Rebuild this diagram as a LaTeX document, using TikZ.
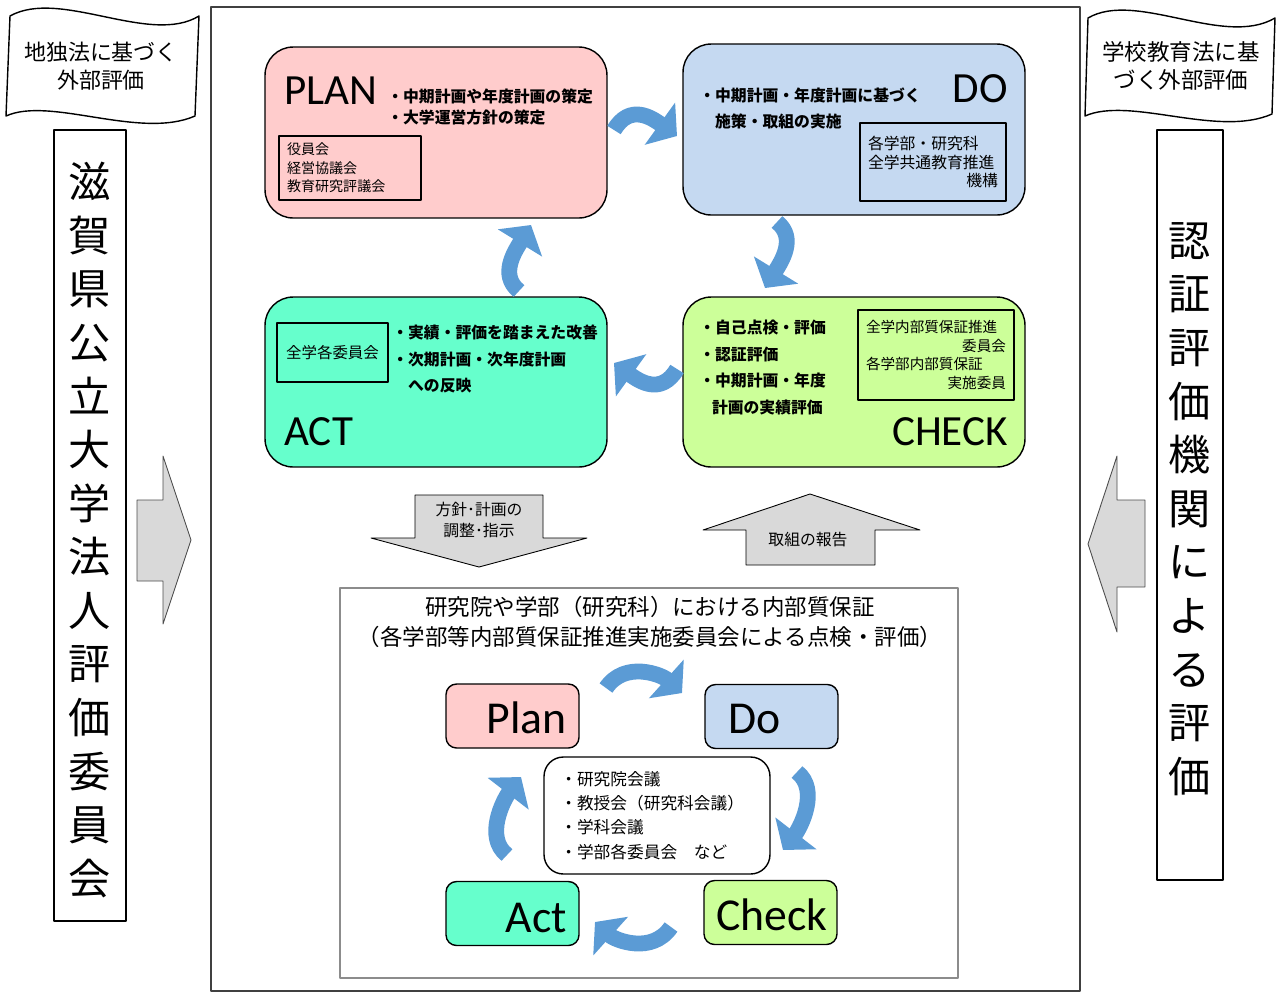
\documentclass[tikz,border=0pt]{standalone}
\usepackage{fontspec}
\setmainfont{Noto Sans CJK JP}
\newfontfamily\pdcafont{Carlito}
\usetikzlibrary{arrows.meta}
\definecolor{planpink}{HTML}{FFCCCC}
\definecolor{doblue}{HTML}{C5D9F1}
\definecolor{actgreen}{HTML}{66FFCC}
\definecolor{checklime}{HTML}{CCFF99}
\definecolor{cyclebl}{HTML}{5B9BD5}
\definecolor{blockgray}{HTML}{D9D9D9}
\definecolor{framegray}{HTML}{404040}

\begin{document}
\begin{tikzpicture}[line join=round,x=0.02cm,y=-0.02cm,
  bigbox/.style={draw=black,line width=0.8pt,rounded corners=16pt,minimum width=6.84cm,minimum height=3.42cm},
  innerbox/.style={draw=black,line width=0.6pt,inner xsep=0.16cm,inner ysep=0pt,align=left},
  smallbox/.style={draw=black,line width=0.8pt,rounded corners=6pt,minimum width=2.66cm,minimum height=1.28cm},
  bigtitle/.style={font=\pdcafont\fontsize{24.5}{24}\selectfont,inner sep=0pt},
  smalltitle/.style={font=\pdcafont\fontsize{26}{26}\selectfont,inner sep=0pt},
  bullets/.style={font=\bfseries\fontsize{9}{15.3}\selectfont,align=left,inner sep=0pt,anchor=west},
  blockarrow/.style={draw=black,line width=0.5pt,fill=blockgray},
  cyclearrow/.style={draw=cyclebl,line width=9pt,-{Triangle[length=12pt,width=29pt]}},
  flag/.style={draw=black,line width=0.8pt,fill=white},
  vtext/.style={font=\fontsize{24}{30.5}\selectfont,align=center,inner sep=0pt}]
\useasboundingbox (0,0) rectangle (1278,992);

% side flags and vertical labels
\draw[flag] (10,16) .. controls (60,-12) and (150,46) .. (199,16) -- (195,116)
  .. controls (140,140) and (50,96) .. (6,116) -- cycle;
\node[align=center,font=\fontsize{12.5}{16}\selectfont] (leftflag) at (101,66) {地独法に基づく\\外部評価};
\draw[flag] (1088,18) .. controls (1136,-10) and (1224,48) .. (1275,18) -- (1272,114)
  .. controls (1218,138) and (1130,96) .. (1085,116) -- cycle;
\node[align=center,font=\fontsize{12.8}{16}\selectfont] (rightflag) at (1181,66) {学校教育法に基\\づく外部評価};
\node[draw=black,line width=1.2pt,minimum width=1.44cm,minimum height=15.82cm] (leftbox) at (90,525.5) {};
\node[vtext] (leftlabel) at (90,530) {滋\\賀\\県\\公\\立\\大\\学\\法\\人\\評\\価\\委\\員\\会};
\node[draw=black,line width=1.2pt,minimum width=1.32cm,minimum height=15cm] (rightbox) at (1190,505) {};
\node[vtext] (rightlabel) at (1190,509) {認\\証\\評\\価\\機\\関\\に\\よ\\る\\評\\価};
\draw[blockarrow,draw=black!70] (137,500) -- (163,500) -- (163,456) -- (191,540) -- (163,624) -- (163,581) -- (137,581) -- cycle;
\draw[blockarrow,draw=black!70] (1145,500) -- (1117,500) -- (1117,456) -- (1088,544) -- (1117,632) -- (1117,587) -- (1145,587) -- cycle;

% main frame
\node[draw=framegray,line width=1.3pt,minimum width=17.38cm,minimum height=19.68cm] (mainframe) at (645.5,499) {};

% university level PDCA
\node[bigbox,fill=planpink] (plan) at (436,132.5) {};
\node[bigbox,fill=doblue] (do) at (854,129.5) {};
\node[bigbox,fill=actgreen,minimum height=3.4cm] (act) at (436,382) {};
\node[bigbox,fill=checklime,minimum height=3.4cm] (check) at (854,382) {};
\node[bigtitle,anchor=base west] (plantitle) at (284,104) {PLAN};
\node[bigtitle,anchor=base east] (dotitle) at (1008,102) {DO};
\node[bigtitle,anchor=base west] (acttitle) at (284,445) {ACT};
\node[bigtitle,anchor=base east] (checktitle) at (1008,445) {CHECK};
\node[bullets,font=\bfseries\fontsize{9}{12.5}\selectfont] (planitems) at (387,107) {・中期計画や年度計画の策定\\・大学運営方針の策定};
\node[bullets] (doitems) at (699,108.5) {・中期計画・年度計画に基づく\\\hspace*{1em}施策・取組の実施};
\node[bullets] (actitems) at (392,359) {・実績・評価を踏まえた改善\\・次期計画・次年度計画\\\hspace*{1em}への反映};
\node[bullets] (checkitems) at (699,367.5) {・自己点検・評価\\・認証評価\\・中期計画・年度\\\hspace*{0.8em}計画の実績評価};
\node[innerbox,text width=2.52cm,minimum height=1.28cm,font=\fontsize{8}{10.5}\selectfont] (planorg) at (350,168) {役員会\\経営協議会\\教育研究評議会};
\node[innerbox,text width=2.6cm,minimum height=1.56cm,font=\fontsize{9}{10.5}\selectfont] (doorg) at (933,162) {各学部・研究科\\全学共通教育推進\\\hspace*{\fill}機構\hspace*{1em}};
\node[innerbox,text width=2.8cm,minimum height=1.8cm,font=\fontsize{8.3}{10.6}\selectfont] (checkorg) at (936,355) {全学内部質保証推進\\\hspace*{\fill}委員会\hspace*{1.6em}\\各学部内部質保証\\\hspace*{\fill}実施委員\hspace*{0.7em}};
\node[innerbox,align=center,minimum width=2.22cm,minimum height=1.18cm,font=\fontsize{8.8}{10.6}\selectfont] (actorg) at (332.5,352.5) {全学各委員会};
\coordinate (pd-tail) at (614,130);
\coordinate (pd-tip) at (677,136);
\coordinate (dc-tail) at (777,222);
\coordinate (dc-tip) at (765,288);
\coordinate (ca-tail) at (677,369);
\coordinate (ca-tip) at (614,363);
\coordinate (ap-tail) at (519,291);
\coordinate (ap-tip) at (531,225);
\draw[cyclearrow] (pd-tail) .. controls (630,103) and (652,118) .. (pd-tip);
\draw[cyclearrow] (dc-tail) .. controls (797,238) and (781,262) .. (dc-tip);
\draw[cyclearrow] (ca-tail) .. controls (661,396) and (639,381) .. (ca-tip);
\draw[cyclearrow] (ap-tail) .. controls (499,275) and (515,251) .. (ap-tip);

% instructions and reports
\draw[blockarrow] (415,495) -- (543,495) -- (543,538) -- (587,538) -- (479,567) -- (371,538) -- (415,538) -- cycle;
\node[align=center,font=\fontsize{9}{12}\selectfont] (policy) at (479,520) {方針･計画の\\調整･指示};
\draw[blockarrow] (810,494) -- (920,530) -- (875,530) -- (875,565) -- (746,565) -- (746,530) -- (703,530) -- cycle;
\node[font=\fontsize{9}{12}\selectfont] (report) at (808,540) {取組の報告};

% faculty level PDCA
\node[draw=black!45,line width=1pt,minimum width=12.36cm,minimum height=7.8cm] (faculty) at (649,783) {};
\node[align=center,font=\fontsize{12.8}{17}\selectfont] (facultytitle) at (650,622) {研究院や学部（研究科）における内部質保証\\（各学部等内部質保証推進実施委員会による点検・評価）};
\node[smallbox,fill=planpink] (splan) at (512.5,716) {};
\node[smallbox,fill=doblue] (sdo) at (771.5,716.5) {};
\node[smallbox,fill=actgreen] (sact) at (512.5,913.5) {};
\node[smallbox,fill=checklime] (scheck) at (770.5,912.5) {};
\node[smalltitle,anchor=base east] (splantitle) at (567,733) {Plan};
\node[smalltitle,anchor=base west] (sdotitle) at (728,733) {Do};
\node[smalltitle,anchor=base east] (sacttitle) at (567,932) {Act};
\node[smalltitle,anchor=base west] (schecktitle) at (716,930) {Check};
\node[draw=black,line width=0.8pt,rounded corners=11pt,minimum width=4.52cm,minimum height=2.34cm] (meetings) at (657,815.5) {};
\node[bullets,font=\fontsize{9.5}{13.8}\selectfont] (meetingitems) at (560,815.5) {・研究院会議\\・教授会（研究科会議）\\・学科会議\\・学部各委員会　など};
\coordinate (spd-tail) at (606,688);
\coordinate (spd-tip) at (682,693);
\coordinate (sdc-tail) at (797,772);
\coordinate (sdc-tip) at (783,850);
\coordinate (sca-tail) at (671,927);
\coordinate (sca-tip) at (595,922);
\coordinate (sap-tail) at (507,855);
\coordinate (sap-tip) at (521,777);
\draw[cyclearrow] (spd-tail) .. controls (625,660) and (662,675) .. (spd-tip);
\draw[cyclearrow] (sdc-tail) .. controls (820,790) and (800,828) .. (sdc-tip);
\draw[cyclearrow] (sca-tail) .. controls (652,955) and (615,940) .. (sca-tip);
\draw[cyclearrow] (sap-tail) .. controls (484,837) and (504,799) .. (sap-tip);
\end{tikzpicture}
\end{document}
